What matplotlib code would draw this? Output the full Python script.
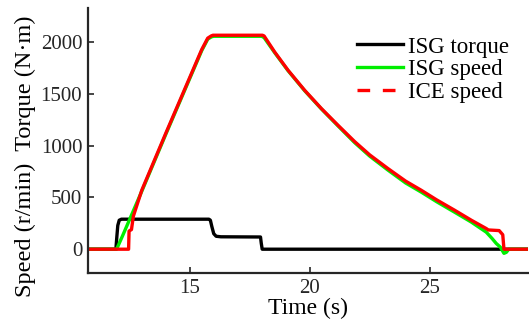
import matplotlib
matplotlib.use("Agg")
import matplotlib.pyplot as plt
from matplotlib.lines import Line2D

plt.rcParams['font.family'] = ['Liberation Serif', 'DejaVu Serif']

# ISG torque (N.m)
torque_t = [10.75, 11.92, 11.96, 12.00, 12.06, 12.15, 15.80, 15.86, 15.92, 16.00, 16.10, 16.30,
            17.95, 17.98, 18.02, 29.10]
torque_v = [0, 0, 120, 230, 280, 290, 290, 280, 220, 150, 125, 120,
            118, 60, 0, 0]

# ISG speed (r/min)
isg_t = [10.75, 11.95, 12.20, 13.00, 14.00, 15.00, 15.50, 15.75, 15.90, 16.00, 18.00, 18.10,
         18.54, 19.10, 19.79, 20.49, 21.18, 21.875, 22.50, 23.26, 24.00, 24.65, 25.30, 26.04,
         26.74, 27.36, 27.60, 27.78, 27.95, 28.10, 28.20, 28.30, 29.10]
isg_v = [0, 0, 130, 560, 1110, 1650, 1920, 2030, 2052, 2058, 2058, 2045,
         1900, 1725, 1532, 1355, 1192, 1030, 900, 765, 640, 552, 458, 358,
         262, 165, 105, 55, 20, -40, -30, 0, 0]

# ICE speed (r/min)
ice_t = [10.75, 12.45, 12.47, 12.57, 12.65, 13.00, 14.00, 15.00, 15.50, 15.75, 15.90, 15.97,
         18.03, 18.10, 18.54, 19.10, 19.79, 20.49, 21.18, 21.875, 22.50, 23.26, 24.00, 24.65,
         25.30, 26.04, 26.74, 27.36, 27.45, 27.90, 28.05, 28.10, 29.10]
ice_v = [0, 0, 175, 190, 320, 570, 1120, 1660, 1930, 2040, 2062, 2068,
         2068, 2061, 1906, 1729, 1536, 1359, 1198, 1040, 912, 780, 658, 570,
         476, 377, 280, 200, 186, 180, 140, 0, 0]

fig = plt.figure(figsize=(5.29, 3.25), dpi=100)
ax = fig.add_axes([0.166, 0.16, 0.832, 0.815])

ax.plot(torque_t, torque_v, color='black', lw=2.4)
ax.plot(isg_t, isg_v, color='#00ee00', lw=2.4)
ax.plot(ice_t, ice_v, color='#ff0000', lw=2.4)

ax.set_xlim(10.75, 29.1)
ax.set_ylim(-230, 2330)
ax.set_xticks([15, 20, 25])
ax.set_yticks([0, 500, 1000, 1500, 2000])
ax.tick_params(direction='in', length=4, width=1.2, labelsize=15, colors='#262626', pad=4)
for s in ['top', 'right']:
    ax.spines[s].set_visible(False)
for s in ['left', 'bottom']:
    ax.spines[s].set_linewidth(1.6)
    ax.spines[s].set_color('#262626')

ax.set_xlabel("Time (s)", fontsize=17, labelpad=0)
ax.set_ylabel("Speed (r/min)  Torque (N\u00b7m)", fontsize=17.5)
ax.yaxis.set_label_coords(-0.118, 0.44)

handles = [Line2D([], [], color='black', lw=2.4),
           Line2D([], [], color='#00ee00', lw=2.4),
           Line2D([], [], color='#ff0000', lw=2.4, ls=(0, (3.8, 3.8)))]
ax.legend(handles, ['ISG torque', 'ISG speed', 'ICE speed'], loc='upper left',
          bbox_to_anchor=(0.611, 0.893), borderaxespad=0, borderpad=0, frameon=False,
          fontsize=16.5, handlelength=2.0, labelspacing=0.08, handletextpad=0.25)

fig.savefig("out.png", dpi=100)
